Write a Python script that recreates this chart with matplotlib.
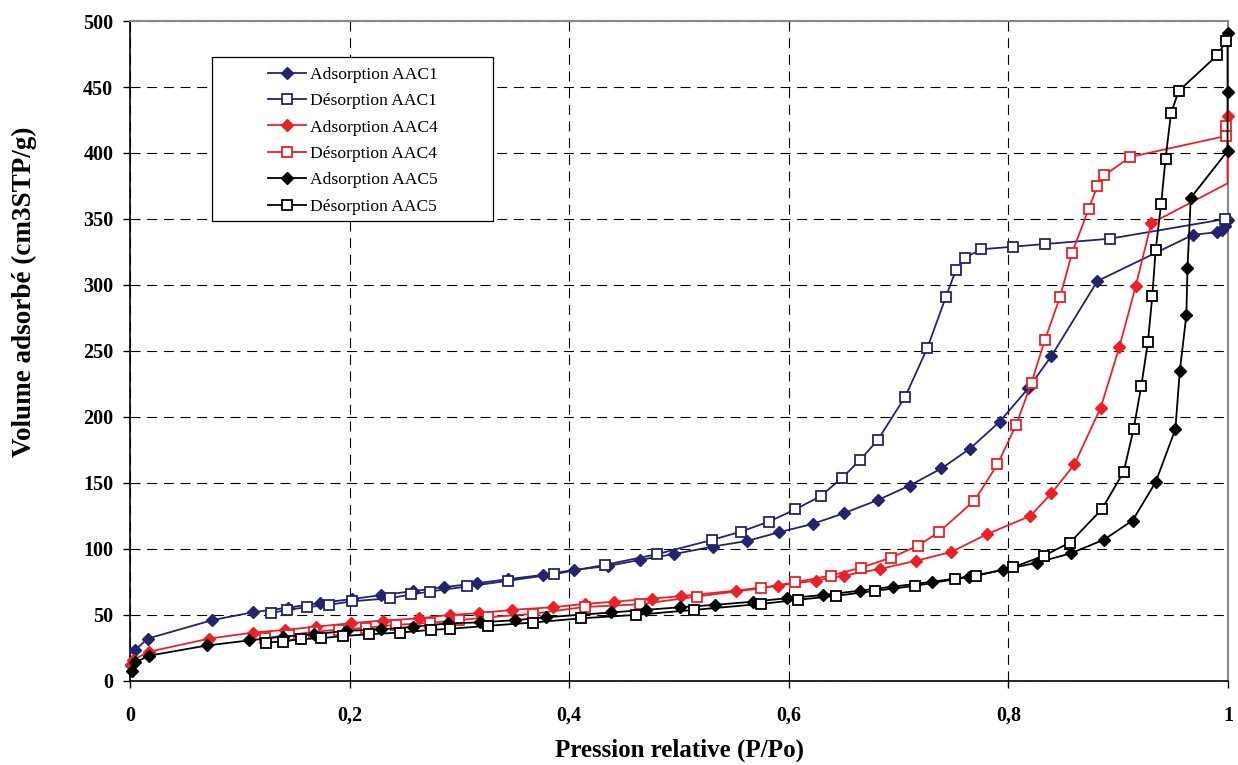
import matplotlib
matplotlib.use("Agg")
import matplotlib.pyplot as plt
from matplotlib.ticker import FuncFormatter
from matplotlib.patches import Rectangle

# ---------------- data ----------------
ads1_p = [0.001, 0.005, 0.016, 0.075, 0.112, 0.144, 0.173, 0.202, 0.229, 0.258, 0.286, 0.316,
          0.344, 0.376, 0.404, 0.435, 0.464, 0.495, 0.531, 0.562, 0.591, 0.622, 0.650, 0.681,
          0.710, 0.739, 0.765, 0.792, 0.818, 0.839, 0.881, 0.968, 0.990, 0.994, 0.997, 0.9995]
ads1_v = [12, 23.5, 32, 46, 52, 55.5, 59, 62, 65, 68, 71, 74,
          77, 80.3, 84, 87, 91.6, 96, 101.8, 106, 112.6, 119, 127, 137,
          148, 161, 176, 196.4, 221.7, 246, 303, 338, 340, 342, 344.7, 349]

des1_p = [0.9975, 0.892, 0.833, 0.804, 0.775, 0.760, 0.752, 0.743, 0.726, 0.706, 0.681, 0.665,
          0.648, 0.629, 0.606, 0.582, 0.556, 0.530, 0.480, 0.433, 0.386, 0.344, 0.307, 0.273,
          0.256, 0.237, 0.202, 0.181, 0.161, 0.143, 0.128]
des1_v = [350, 335, 331, 329, 327, 320.5, 311, 291, 252, 215.4, 182.6, 167.4,
          153.5, 140, 130, 120.7, 113, 106.8, 96, 88, 80.8, 75.8, 71.5, 67.7,
          65.5, 62.6, 60.3, 57.6, 55.8, 53.8, 51.3]

ads4_p = [0.001, 0.003, 0.017, 0.072, 0.112, 0.141, 0.169, 0.201, 0.230, 0.263, 0.291, 0.318,
          0.348, 0.385, 0.414, 0.441, 0.475, 0.502, 0.552, 0.590, 0.625, 0.650, 0.683, 0.716,
          0.748, 0.780, 0.820, 0.839, 0.860, 0.884, 0.901, 0.916, 0.930, 0.9995, 0.9995]
ads4_v = [12, 16, 22, 32, 36.6, 38.6, 41, 43.7, 45.7, 47.3, 50, 51.3,
          53.8, 55.8, 58.3, 60, 62.3, 64.2, 68.4, 72.2, 76, 79.8, 84.8, 91,
          97.7, 111, 125, 142, 164, 207, 253, 299.5, 346.7, 377, 428]

des4_p = [0.9985, 0.9985, 0.911, 0.887, 0.881, 0.873, 0.858, 0.847, 0.833, 0.821, 0.807, 0.790,
          0.769, 0.737, 0.718, 0.693, 0.666, 0.638, 0.606, 0.575, 0.516, 0.464, 0.414, 0.367,
          0.326, 0.300, 0.273, 0.242, 0.215, 0.190, 0.168, 0.145, 0.123]
des4_v = [420.5, 413, 397, 383, 375, 357.6, 324.5, 291, 258, 226, 194, 164,
          136.6, 113, 102.5, 93.4, 85.8, 79.8, 74.7, 70.2, 63.9, 58, 56, 50.8,
          48.2, 46, 44, 42.4, 40.2, 38.8, 37.2, 34.8, 32.3]

ads5_p = [0.0015, 0.005, 0.017, 0.070, 0.108, 0.139, 0.168, 0.197, 0.229, 0.258, 0.290, 0.319,
          0.351, 0.379, 0.438, 0.470, 0.501, 0.533, 0.567, 0.598, 0.631, 0.665, 0.695, 0.730,
          0.764, 0.795, 0.826, 0.857, 0.887, 0.913, 0.934, 0.952, 0.956, 0.962, 0.963, 0.966,
          0.9995, 0.9995, 0.9995]
ads5_v = [7.6, 14, 19, 26.8, 30.6, 33.6, 35.3, 37.9, 39, 41, 43.6, 44.3,
          46, 48.2, 51.8, 53.8, 55.8, 57.6, 60, 62.6, 65, 68.4, 71.4, 75,
          79, 84, 89.6, 96.7, 107, 121.5, 150.5, 190.7, 234.8, 277, 312.6, 366,
          401.5, 446.5, 491]

des5_p = [0.9985, 0.990, 0.955, 0.948, 0.943, 0.939, 0.934, 0.931, 0.927, 0.921, 0.914, 0.905,
          0.885, 0.856, 0.832, 0.804, 0.770, 0.751, 0.715, 0.678, 0.643, 0.608, 0.575, 0.514,
          0.461, 0.411, 0.367, 0.326, 0.291, 0.274, 0.246, 0.218, 0.194, 0.174, 0.156, 0.139,
          0.124]
des5_v = [485, 474, 447, 430, 395.5, 361, 326.5, 291.7, 257, 223.7, 191, 158.6,
          130, 104.8, 94.7, 86, 79.5, 77, 72, 68.2, 64.4, 61.4, 58.3, 53.8,
          50, 47.4, 44.2, 41.7, 39.4, 38.6, 36.6, 35.3, 34, 32.3, 31.6, 29.8,
          29]

labels = ["Adsorption AAC1", "Désorption AAC1", "Adsorption AAC4",
          "Désorption AAC4", "Adsorption AAC5", "Désorption AAC5"]
x_ticks = [0, 0.2, 0.4, 0.6, 0.8, 1.0]
y_ticks = list(range(0, 501, 50))

# ---------------- style ----------------
plt.rcParams['font.family'] = ['Liberation Serif', 'DejaVu Serif']
navy = "#232370"
red = "#EE2025"
black = "#000000"

fig = plt.figure(figsize=(12.38, 7.65), dpi=100)
ax = fig.add_axes([0.105, 0.110, 0.887, 0.8625])

lw = 1.3
ax.plot(ads1_p, ads1_v, color=navy, lw=lw, marker='D', ms=5.8, mfc=navy, mec=navy,
        label=labels[0], clip_on=False, zorder=3)
ax.plot(des1_p, des1_v, color=navy, lw=lw, marker='s', ms=7, mfc='white', mec=navy, mew=1.3,
        label=labels[1], clip_on=False, zorder=3)
mk4 = [i for i in range(len(ads4_p)) if i != len(ads4_p) - 2]
ax.plot(ads4_p, ads4_v, color=red, lw=lw, marker='D', ms=5.8, mfc=red, mec=red,
        markevery=mk4, label=labels[2], clip_on=False, zorder=3)
ax.plot(des4_p, des4_v, color=red, lw=lw, marker='s', ms=7, mfc='white', mec=red, mew=1.3,
        label=labels[3], clip_on=False, zorder=3)
ax.plot(ads5_p, ads5_v, color=black, lw=lw, marker='D', ms=5.8, mfc=black, mec=black,
        label=labels[4], clip_on=False, zorder=3)
ax.plot(des5_p, des5_v, color=black, lw=lw, marker='s', ms=7, mfc='white', mec=black, mew=1.3,
        label=labels[5], clip_on=False, zorder=3)

ax.set_xlim(0, 1)
ax.set_ylim(0, 500)
ax.set_xticks(x_ticks)
ax.set_yticks(y_ticks)
ax.xaxis.set_major_formatter(FuncFormatter(
    lambda v, p: "0" if v == 0 else ("1" if abs(v - 1) < 1e-9 else f"{v:.1f}".replace(".", ","))))
ax.grid(True, color='black', linestyle=(0, (9, 6)), linewidth=0.8)
ax.set_axisbelow(True)

for lbl in ax.get_xticklabels() + ax.get_yticklabels():
    lbl.set_fontweight('bold')
    lbl.set_fontsize(14.5)
ax.tick_params(axis='both', direction='out', length=5, width=1, colors='black')
ax.tick_params(axis='x', pad=13)
ax.tick_params(axis='y', pad=7)

for s in ['left', 'bottom']:
    ax.spines[s].set_color('black')
    ax.spines[s].set_linewidth(1.2)
for s in ['right', 'top']:
    ax.spines[s].set_color('#888888')
    ax.spines[s].set_linewidth(1.5)

ax.set_xlabel("Pression relative (P/Po)", fontsize=18, fontweight='bold')
ax.set_ylabel("Volume adsorbé (cm3STP/g)", fontsize=19.5, fontweight='bold')
ax.xaxis.set_label_coords(0.5, -0.088)
ax.yaxis.set_label_coords(-0.085, 0.59)

# legend box (white, covers the grid)
box = Rectangle((0.0747, 0.697), 0.2560, 0.2485, transform=ax.transAxes,
                facecolor='white', edgecolor='black', linewidth=0.9, zorder=4)
ax.add_patch(box)
leg = ax.legend(loc='upper left', bbox_to_anchor=(0.1257, 0.931), fontsize=12.6,
                frameon=False, handlelength=2.15, borderpad=0, labelspacing=0.58,
                handletextpad=0.25, borderaxespad=0)
leg.set_zorder(5)

fig.savefig("out.png", dpi=100)
